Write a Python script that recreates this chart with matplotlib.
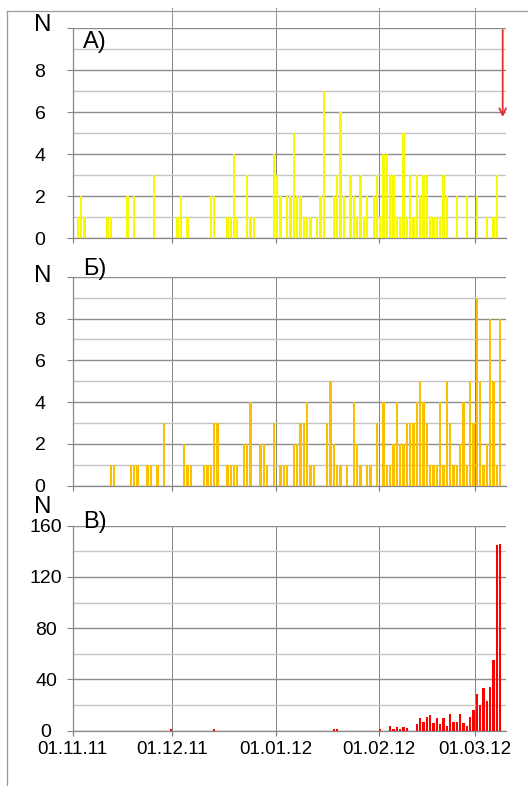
import matplotlib
matplotlib.use("Agg")
import matplotlib.pyplot as plt
from matplotlib.lines import Line2D
import pandas as pd

plt.rcParams['font.family'] = ['Liberation Sans', 'DejaVu Sans']

# день от 01.11.2011 -> число событий
start = pd.Timestamp('2011-11-01')

a_days = [1, 2, 3, 10, 11, 16, 18, 24, 31, 32, 34, 41, 42, 46, 47, 48, 49, 52, 53, 54,
          60, 61, 62, 64, 65, 66, 67, 68, 69, 70, 71, 73, 74, 75, 78, 79, 80, 81, 83, 84,
          85, 86, 87, 88, 90, 91, 92, 93, 94, 95, 96, 97, 98, 99, 100, 101, 102, 103, 104,
          105, 106, 107, 108, 109, 110, 111, 112, 115, 118, 121, 124, 126, 127]
a_vals = [1, 2, 1, 1, 1, 2, 2, 3, 1, 2, 1, 2, 2, 1, 1, 4, 1, 3, 1, 1,
          4, 3, 2, 2, 2, 5, 2, 2, 1, 1, 1, 1, 2, 7, 2, 3, 6, 2, 3, 2,
          1, 3, 1, 2, 2, 3, 1, 4, 4, 3, 3, 1, 1, 5, 1, 3, 1, 3, 2,
          3, 3, 1, 1, 1, 1, 3, 2, 2, 2, 2, 1, 1, 3]

b_days = [11, 12, 17, 18, 19, 22, 23, 25, 27, 33, 34, 35, 39, 40, 41, 42, 43, 46, 47, 48,
          49, 51, 52, 53, 56, 57, 58, 60, 62, 63, 64, 66, 67, 68, 69, 70, 71, 72, 76, 77,
          78, 79, 80, 82, 84, 85, 86, 88, 89, 91, 93, 94, 95, 96, 97, 98, 99, 100, 101, 102,
          103, 104, 105, 106, 107, 108, 109, 110, 111, 112, 113, 114, 115, 116, 117, 118,
          119, 120, 121, 122, 123, 124, 125, 126, 127, 128]
b_vals = [1, 1, 1, 1, 1, 1, 1, 1, 3, 2, 1, 1, 1, 1, 1, 3, 3, 1, 1, 1,
          1, 2, 2, 4, 2, 2, 1, 3, 1, 1, 1, 2, 2, 3, 3, 4, 1, 1, 3, 5,
          2, 1, 1, 1, 4, 2, 1, 1, 1, 3, 4, 1, 1, 2, 4, 2, 2, 3, 3, 3,
          4, 5, 4, 3, 1, 1, 1, 4, 1, 5, 3, 1, 1, 2, 4, 1,
          5, 3, 9, 5, 1, 2, 8, 5, 1, 8]

c_days = [29, 42, 78, 79, 92, 95, 96, 97, 98, 99, 100, 103, 104, 105, 106, 107, 108,
          109, 110, 111, 112, 113, 114, 115, 116, 117, 118, 119, 120, 121, 122, 123, 124,
          125, 126, 127, 128]
c_vals = [1, 1, 1, 1, 1, 4, 1, 3, 1, 3, 2, 5, 10, 7, 11, 12, 6,
          10, 5, 10, 4, 13, 7, 7, 13, 6, 4, 11, 16, 29, 20, 33, 23,
          34, 55, 145, 146]

month_labels = ['01.11.11', '01.12.11', '01.01.12', '01.02.12', '01.03.12']
month_pos = [(pd.to_datetime(s, format='%d.%m.%y') - start).days for s in month_labels]

W, H = 528, 787
fig = plt.figure(figsize=(W / 100, H / 100), dpi=100)

panels = [
    # данные, цвет, ymax, шаг подписей, шаг сетки, буква, верх/низ осей (px), центр подписей, N y, буква y
    (a_days, a_vals, '#f8f800', 10, 2, 1, 'А)', 28.3, 238.3, 40, 25, 48),
    (b_days, b_vals, '#fcbf00', 10, 2, 1, 'Б)', 276.7, 485.7, 40, 276, 275),
    (c_days, c_vals, '#ff0000', 160, 40, 20, 'В)', 525.7, 730.7, 46, 507, 528),
]

left_px, right_px = 72.7, 505.7
for i, (days, vals, col, ymax, major, minor, letter, top, bot, lab_c, ny, lb) in enumerate(panels):
    ax = fig.add_axes([left_px / W, 1 - bot / H, (right_px - left_px) / W, (bot - top) / H])
    ax.bar([d + 0.5 for d in days], vals, width=0.7, color=col, zorder=3)
    ax.set_xlim(0, 130.2)
    ax.set_ylim(0, ymax)
    ax.set_axisbelow(True)

    ax.set_yticks(range(0, ymax + 1, major))
    ax.set_yticks(range(0, ymax + 1, minor), minor=True)
    if ymax == 10:
        ax.set_yticklabels(['0', '2', '4', '6', '8', ''])
    ax.grid(which='major', axis='y', color='#8c8c8c', lw=1.0)
    ax.grid(which='minor', axis='y', color='#c4c4c4', lw=1.0)
    ax.set_xticks(month_pos)
    ax.grid(which='major', axis='x', color='#6e6e6e', lw=0.6)

    pad = (left_px - lab_c) / 1.389 - 4.3
    ax.tick_params(axis='y', which='major', length=4.3, color='#888888', width=0.8,
                   labelsize=14, pad=pad)
    ax.tick_params(axis='y', which='minor', length=0)
    for t in ax.get_yticklabels():
        t.set_ha('center')
    ax.tick_params(axis='x', length=3.6, color='#777777', width=0.8, labelsize=13.5, pad=4)
    if i == 2:
        ax.set_xticklabels(month_labels)
    else:
        ax.set_xticklabels([])
    for s in ['top', 'right']:
        ax.spines[s].set_visible(False)
    for s in ['left', 'bottom']:
        ax.spines[s].set_color('#888888')
        ax.spines[s].set_linewidth(0.9)

    if i == 0:
        for x in month_pos[1:]:
            ax.axvline(x, ymin=1, ymax=1 + 20 / (bot - top), color='#9a9a9a', lw=0.8,
                       clip_on=False)

    fig.text(43 / W, 1 - ny / H, 'N', fontsize=17.5, ha='center', va='center')
    fig.text(83 / W, 1 - lb / H, letter, fontsize=17, ha='left', va='baseline')

# рамка
fig.add_artist(Line2D([7 / W, 1], [1 - 11 / H, 1 - 11 / H], transform=fig.transFigure,
                      color='#999999', lw=0.9))
fig.add_artist(Line2D([7 / W, 7 / W], [1 - 11 / H, 1 - 785 / H], transform=fig.transFigure,
                      color='#999999', lw=0.9))

# стрелка
fig.axes[0].annotate('', xy=(502.7, H - 117), xytext=(502.7, H - 30),
                     xycoords='figure pixels', textcoords='figure pixels',
                     arrowprops=dict(arrowstyle='->', color='#e03030', lw=1.3,
                                     mutation_scale=12, shrinkA=0, shrinkB=0))

fig.savefig('out.png', dpi=100)
